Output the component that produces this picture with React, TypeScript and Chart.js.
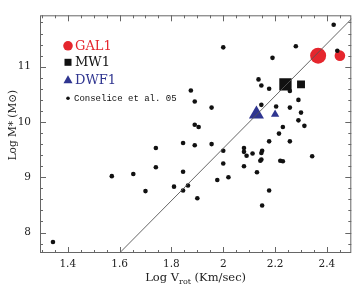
import React, { useEffect, useRef } from "react";
import { Chart, registerables } from "chart.js";

Chart.register(...registerables);

// Conselice et al. 05 sample: log V_rot, log M*
const conseliceX = [
  1.343, 1.57, 1.653, 1.70, 1.74, 1.74, 1.81, 1.845, 1.845, 1.864, 1.90, 1.977, 2.0, 2.02,
  1.89, 1.955, 2.0, 2.08, 2.08, 2.09, 2.113, 2.15, 2.147, 2.147, 2.143, 2.08, 2.13, 2.177,
  2.15, 2.22, 2.23, 2.343, 1.875, 1.89, 1.955, 1.89, 1.905, 1.845, 2.426, 2.0, 2.28, 2.19,
  2.44, 2.136, 2.147, 2.177, 2.257, 2.29, 2.147, 2.204, 2.257, 2.30, 2.29, 2.313, 2.23,
  2.215, 2.177, 2.257,
];
const conseliceY = [
  7.83, 9.02, 9.06, 8.75, 9.53, 9.18, 8.83, 9.10, 8.76, 8.85, 8.62, 8.95, 9.25, 9.0,
  9.58, 9.60, 9.48, 9.53, 9.46, 9.39, 9.43, 9.48, 9.44, 9.32, 9.30, 9.20, 9.09, 8.76,
  8.49, 9.30, 9.29, 9.38, 10.57, 10.37, 10.26, 9.95, 9.91, 9.62, 11.76, 11.35, 11.37, 11.16,
  11.29, 10.77, 10.66, 10.60, 10.56, 10.40, 10.31, 10.28, 10.26, 10.17, 10.03, 9.93, 9.91,
  9.79, 9.65, 9.65,
];

const gal1X = [2.366, 2.45];
const gal1Y = [11.2, 11.2];
const mw1X = [2.24, 2.30];
const mw1Y = [10.68, 10.68];
const dwf1X = [2.128, 2.2];
const dwf1Y = [10.14, 10.14];

// Tully-Fisher relation line endpoints
const fitX = [1.6, 2.5];
const fitY = [7.63, 11.89];

const xTicks = [1.4, 1.6, 1.8, 2.0, 2.2, 2.4];
const xTickLabels = ["1.4", "1.6", "1.8", "2", "2.2", "2.4"];
const yTicks = [8, 9, 10, 11];
const yTickLabels = ["8", "9", "10", "11"];

const legendLabels = ["GAL1", "MW1", "DWF1", "Conselice et al. 05"];

const X_MIN = 1.293;
const X_MAX = 2.494;
const Y_MIN = 7.63;
const Y_MAX = 11.93;

const RED = "#e5262d";
const BLUE = "#2f3590";
const SERIF = "'DejaVu Serif', serif";

const toPts = (xs: number[], ys: number[]) => xs.map((x, i) => ({ x, y: ys[i] }));

const decorPlugin = {
  id: "decor",
  afterDraw(chart: any) {
    const { ctx, chartArea: a, scales } = chart;
    const xs = scales.x;
    const ys = scales.y;
    ctx.save();
    // frame
    ctx.strokeStyle = "#666";
    ctx.lineWidth = 1;
    ctx.strokeRect(a.left + 0.5, a.top + 0.5, a.right - a.left - 1, a.bottom - a.top - 1);
    // ticks
    ctx.beginPath();
    for (let v = 1.3; v <= X_MAX + 1e-6; v += 0.05) {
      const vv = Math.round(v * 100) / 100;
      if (vv < X_MIN) continue;
      const major = xTicks.some((t) => Math.abs(t - vv) < 1e-6);
      const len = major ? 6 : 3;
      const px = Math.round(xs.getPixelForValue(vv)) + 0.5;
      ctx.moveTo(px, a.bottom);
      ctx.lineTo(px, a.bottom - len);
      ctx.moveTo(px, a.top);
      ctx.lineTo(px, a.top + len);
    }
    for (let v = 7.8; v <= Y_MAX + 1e-6; v += 0.2) {
      const vv = Math.round(v * 10) / 10;
      const major = yTicks.some((t) => Math.abs(t - vv) < 1e-6);
      const len = major ? 6 : 3;
      const py = Math.round(ys.getPixelForValue(vv)) + 0.5;
      ctx.moveTo(a.left, py);
      ctx.lineTo(a.left + len, py);
      ctx.moveTo(a.right, py);
      ctx.lineTo(a.right - len, py);
    }
    ctx.stroke();

    // x title with subscript
    ctx.fillStyle = "#222";
    ctx.textBaseline = "alphabetic";
    const mainFont = `11.5px ${SERIF}`;
    const subFont = `8px ${SERIF}`;
    ctx.font = mainFont;
    const p1 = "Log V";
    const p3 = " (Km/sec)";
    const w1 = ctx.measureText(p1).width;
    const w3 = ctx.measureText(p3).width;
    ctx.font = subFont;
    const p2 = "rot";
    const w2 = ctx.measureText(p2).width;
    const cx = (a.left + a.right) / 2;
    let sx = cx - (w1 + w2 + w3) / 2;
    const by = a.bottom + 28;
    ctx.font = mainFont;
    ctx.fillText(p1, sx, by);
    sx += w1;
    ctx.font = subFont;
    ctx.fillText(p2, sx, by + 3);
    sx += w2;
    ctx.font = mainFont;
    ctx.fillText(p3, sx, by);

    // y title
    ctx.save();
    ctx.translate(13, (a.top + a.bottom) / 2 - 9);
    ctx.rotate(-Math.PI / 2);
    ctx.textAlign = "center";
    ctx.textBaseline = "middle";
    ctx.font = `10.5px ${SERIF}`;
    ctx.fillText("Log M* (M\u2299)", 0, 0);
    ctx.restore();

    // legend
    const lx = a.left + 28;
    const tx = a.left + 35;
    ctx.textAlign = "left";
    ctx.textBaseline = "middle";
    // GAL1
    let ly = a.top + 30.5;
    ctx.fillStyle = RED;
    ctx.beginPath();
    ctx.arc(lx, ly, 4.8, 0, Math.PI * 2);
    ctx.fill();
    ctx.font = `13px ${SERIF}`;
    ctx.fillText(legendLabels[0], tx, ly + 0.5);
    // MW1
    ly = a.top + 47;
    ctx.fillStyle = "#111";
    ctx.fillRect(lx - 3.5, ly - 3.5, 7, 7);
    ctx.fillText(legendLabels[1], tx, ly + 0.5);
    // DWF1
    ly = a.top + 64.5;
    ctx.fillStyle = BLUE;
    ctx.beginPath();
    ctx.moveTo(lx, ly - 4.5);
    ctx.lineTo(lx + 4.5, ly + 3.5);
    ctx.lineTo(lx - 4.5, ly + 3.5);
    ctx.closePath();
    ctx.fill();
    ctx.fillText(legendLabels[2], tx, ly + 0.5);
    // Conselice
    ly = a.top + 83;
    ctx.fillStyle = "#111";
    ctx.beginPath();
    ctx.arc(lx, ly, 1.8, 0, Math.PI * 2);
    ctx.fill();
    ctx.font = `9px 'Liberation Mono', monospace`;
    ctx.fillText(legendLabels[3], tx - 1, ly + 0.5);
    ctx.restore();
  },
};

export default function App() {
  const ref = useRef<HTMLCanvasElement | null>(null);

  useEffect(() => {
    document.body.style.margin = "0";
    const canvas = ref.current;
    if (!canvas) return;
    const chart = new Chart(canvas, {
      type: "scatter",
      data: {
        datasets: [
          {
            type: "line",
            label: "fit",
            data: toPts(fitX, fitY),
            borderColor: "#555",
            borderWidth: 0.9,
            pointRadius: 0,
            fill: false,
          } as any,
          {
            label: legendLabels[3],
            data: toPts(conseliceX, conseliceY),
            backgroundColor: "#111",
            borderWidth: 0,
            pointRadius: 2.3,
            pointStyle: "circle",
          },
          {
            label: legendLabels[2],
            data: toPts(dwf1X, dwf1Y),
            backgroundColor: BLUE,
            borderWidth: 0,
            pointRadius: [8.7, 4.8],
            pointStyle: "triangle",
          },
          {
            label: legendLabels[1],
            data: toPts(mw1X, mw1Y),
            backgroundColor: "#111",
            borderWidth: 0,
            pointRadius: [8.7, 5.6],
            pointStyle: "rect",
          },
          {
            label: legendLabels[0],
            data: toPts(gal1X, gal1Y),
            backgroundColor: RED,
            borderWidth: 0,
            pointRadius: [8, 5.3],
            pointStyle: "circle",
          },
        ],
      },
      options: {
        animation: false,
        responsive: false,
        maintainAspectRatio: false,
        layout: { padding: { top: 5, right: 3, left: 0, bottom: 0 } },
        plugins: {
          legend: { display: false },
          tooltip: { enabled: false },
        },
        scales: {
          x: {
            type: "linear",
            min: X_MIN,
            max: X_MAX,
            afterBuildTicks: (s: any) => {
              s.ticks = xTicks.map((v) => ({ value: v }));
            },
            afterFit: (s: any) => {
              s.height = 32;
            },
            ticks: {
              autoSkip: false,
              maxRotation: 0,
              padding: 5,
              color: "#222",
              font: { family: "DejaVu Serif", size: 10.5 },
              callback: (v: any) => {
                const i = xTicks.findIndex((t) => Math.abs(t - Number(v)) < 1e-6);
                return i >= 0 ? xTickLabels[i] : "";
              },
            },
            grid: { display: false, drawTicks: false },
            border: { display: false },
          },
          y: {
            type: "linear",
            min: Y_MIN,
            max: Y_MAX,
            afterBuildTicks: (s: any) => {
              s.ticks = yTicks.map((v) => ({ value: v }));
            },
            afterFit: (s: any) => {
              s.width = 40;
            },
            ticks: {
              autoSkip: false,
              padding: 9,
              color: "#222",
              font: { family: "DejaVu Serif", size: 10.5 },
              callback: (v: any) => {
                const i = yTicks.findIndex((t) => Math.abs(t - Number(v)) < 1e-6);
                return i >= 0 ? yTickLabels[i] : "";
              },
            },
            grid: { display: false, drawTicks: false },
            border: { display: false },
          },
        },
      },
      plugins: [decorPlugin],
    });
    return () => chart.destroy();
  }, []);

  return (
    <div style={{ position: "fixed", left: 0, top: 0, width: 360, height: 285, background: "#fff" }}>
      <canvas ref={ref} width={360} height={285} style={{ width: 360, height: 285 }} />
    </div>
  );
}
